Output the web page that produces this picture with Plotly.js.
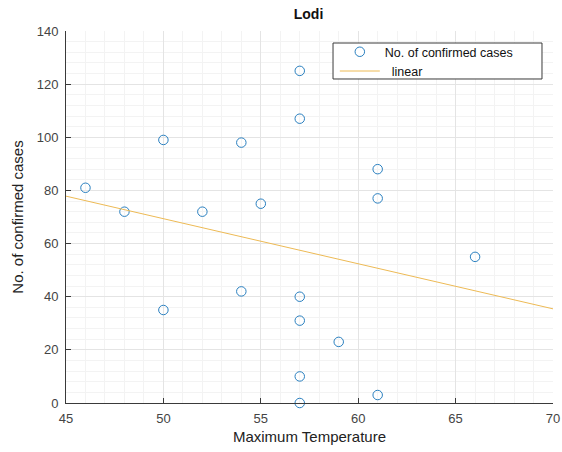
<!DOCTYPE html>
<html>
<head>
<meta charset="utf-8">
<script src="https://cdn.plot.ly/plotly-3.0.1.min.js"></script>
<style>html,body{margin:0;padding:0;background:#fff;}#chart{width:562px;height:452px;}</style>
</head>
<body>
<div id="chart"></div>
<script>
// Maximum temperature vs. confirmed cases (Lodi)
var maxTemp = [46, 48, 50, 50, 52, 54, 54, 55, 57, 57, 57, 57, 57, 57, 59, 61, 61, 61, 66];
var cases   = [81, 72, 99, 35, 72, 98, 42, 75, 125, 107, 40, 31, 10, 0, 23, 88, 77, 3, 55];
var xTicks = [45, 50, 55, 60, 65, 70];
var yTicks = [0, 20, 40, 60, 80, 100, 120, 140];

// least-squares linear fit of the data above
function linFit(xs, ys) {
  var n = xs.length, mx = 0, my = 0;
  for (var i = 0; i < n; i++) { mx += xs[i]; my += ys[i]; }
  mx /= n; my /= n;
  var sxy = 0, sxx = 0;
  for (var j = 0; j < n; j++) { sxy += (xs[j]-mx)*(ys[j]-my); sxx += (xs[j]-mx)*(xs[j]-mx); }
  var b = sxy / sxx, a = my - b*mx;
  return function (x) { return a + b*x; };
}
var f = linFit(maxTemp, cases);
var fitX = [xTicks[0], xTicks[xTicks.length-1]];
var fitY = fitX.map(f);

var font = 'Liberation Sans, Arial, Helvetica, sans-serif';
var axisCol = '#3a3a3a';

var traces = [
  {
    x: maxTemp, y: cases, type: 'scatter', mode: 'markers',
    name: 'No. of confirmed cases',
    marker: {symbol: 'circle-open', size: 9.5, color: '#2a80c0', line: {width: 1, color: '#2a80c0'}},
    cliponaxis: false
  },
  {
    x: fitX, y: fitY, type: 'scatter', mode: 'lines',
    name: '\u00a0\u00a0linear',
    line: {color: '#EDBA55', width: 1}
  }
];

var layout = {
  width: 562, height: 452,
  margin: {l: 66, r: 9, t: 31, b: 49, pad: 0},
  paper_bgcolor: '#ffffff', plot_bgcolor: '#ffffff',
  font: {family: font, size: 13, color: axisCol},
  title: {text: '<b>Lodi</b>', font: {family: font, size: 14, color: '#111'}, x: 0.549, xanchor: 'center', y: 0.968, yanchor: 'middle'},
  showlegend: true,
  legend: {
    x: 0.552, y: 0.9835, xanchor: 'left', yanchor: 'top',
    bgcolor: 'rgba(0,0,0,0)', borderwidth: 0,
    font: {family: font, size: 12.5, color: '#111'},
    tracegroupgap: 0, itemwidth: 40
  },
  shapes: [{
    type: 'rect', xref: 'paper', yref: 'paper', layer: 'above',
    x0: 0.5483, x1: 0.9774, y0: 0.871, y1: 0.9677,
    fillcolor: '#ffffff', line: {color: '#3a3a3a', width: 1}
  }],
  xaxis: {
    range: [45, 70], tickvals: xTicks, ticktext: xTicks.map(String),
    showline: true, linecolor: axisCol, linewidth: 1, mirror: false,
    ticks: 'inside', ticklen: 5, tickcolor: axisCol, ticklabelstandoff: 3,
    showgrid: true, gridcolor: '#e4e4e4', gridwidth: 1, zeroline: false,
    minor: {dtick: 1, showgrid: true, gridcolor: '#f3f3f3', gridwidth: 1, ticks: ''},
    tickfont: {family: font, size: 13, color: '#444'},
    title: {text: 'Maximum Temperature', font: {family: font, size: 15, color: '#222'}, standoff: 6},
    automargin: false
  },
  yaxis: {
    range: [0, 140], tickvals: yTicks, ticktext: yTicks.map(String),
    showline: true, linecolor: axisCol, linewidth: 1, mirror: false,
    ticks: 'inside', ticklen: 5, tickcolor: axisCol, ticklabelstandoff: 4,
    showgrid: true, gridcolor: '#e4e4e4', gridwidth: 1, zeroline: false,
    minor: {dtick: 4, showgrid: true, gridcolor: '#f3f3f3', gridwidth: 1, ticks: ''},
    tickfont: {family: font, size: 13, color: '#444'},
    title: {text: 'No. of confirmed cases', font: {family: font, size: 15, color: '#222'}, standoff: 9},
    automargin: false
  }
};

Plotly.newPlot('chart', traces, layout, {displayModeBar: false, staticPlot: true});
</script>
</body>
</html>
